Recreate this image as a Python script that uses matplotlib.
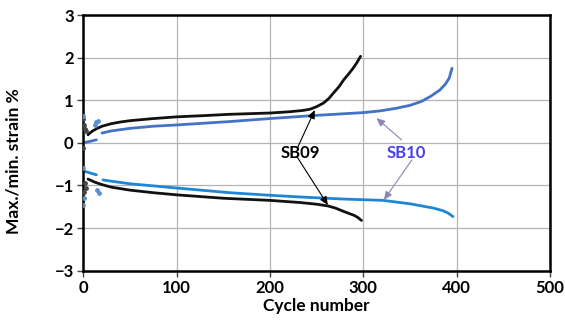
import matplotlib
matplotlib.use("Agg")
import matplotlib.pyplot as plt

plt.rcParams['font.family'] = ['Lato', 'DejaVu Sans']
plt.rcParams['font.weight'] = 'bold'

# SB09 maximum / minimum strain vs cycle
sb09_max_cycle = [5, 7, 10, 15, 20, 30, 40, 50, 75, 100, 130, 157, 200, 221, 235, 243,
                  250, 257, 263, 268, 274, 279, 284, 289, 293, 297]
sb09_max_val = [0.19, 0.23, 0.28, 0.34, 0.39, 0.45, 0.49, 0.52, 0.57, 0.61, 0.64, 0.67, 0.70,
                0.73, 0.76, 0.79, 0.85, 0.93, 1.04, 1.17, 1.32, 1.48, 1.61, 1.75, 1.88, 2.03]
sb09_min_cycle = [5, 8, 12, 20, 30, 50, 75, 100, 150, 200, 232, 250, 262, 270, 279, 285,
                  290, 294, 298]
sb09_min_val = [-0.85, -0.88, -0.92, -0.98, -1.04, -1.11, -1.17, -1.22, -1.30, -1.35, -1.40,
                -1.44, -1.48, -1.53, -1.61, -1.66, -1.70, -1.75, -1.82]

# SB10 maximum / minimum strain vs cycle
sb10_max_start_cycle = [0, 14]
sb10_max_start_val = [0.0, 0.07]
sb10_max_cycle = [20, 30, 50, 75, 100, 157, 200, 246, 300, 318, 335, 350, 362, 372, 382,
                  388, 392, 395]
sb10_max_val = [0.23, 0.28, 0.34, 0.39, 0.42, 0.50, 0.57, 0.64, 0.71, 0.75, 0.81, 0.88, 0.97,
                1.09, 1.24, 1.38, 1.52, 1.75]
sb10_min_start_cycle = [0, 14]
sb10_min_start_val = [-0.66, -0.75]
sb10_min_cycle = [21, 30, 50, 100, 157, 200, 232, 280, 321, 350, 365, 375, 385, 391, 396]
sb10_min_val = [-0.87, -0.90, -0.96, -1.06, -1.17, -1.23, -1.27, -1.32, -1.35, -1.43, -1.49,
                -1.53, -1.59, -1.65, -1.73]

# scattered early-cycle readings
sb09_pts_cycle = [0, 1, 2, 3, 0, 1, 2, 3]
sb09_pts_val = [0.55, 0.42, 0.33, 0.27, -0.12, -1.15, -0.95, -1.05]
sb10_pts_cycle = [0, 12, 14, 16, 0, 15, 17, 0, 1]
sb10_pts_val = [0.62, 0.42, 0.48, 0.52, -0.58, -1.10, -1.17, -1.45, -1.30]

x_ticks = [0, 100, 200, 300, 400, 500]
y_ticks = [-3, -2, -1, 0, 1, 2, 3]

c_black = '#111111'
c_max10 = '#4472C4'
c_min10 = '#1F86D6'
c_note = '#8A86B8'

fig = plt.figure(figsize=(5.65, 3.29), dpi=100)
ax = fig.add_axes([0.1475, 0.1772, 0.826, 0.7772])

kw = dict(lw=2.0, solid_capstyle='round', solid_joinstyle='round')
ax.plot(sb09_max_cycle, sb09_max_val, color=c_black, **kw)
ax.plot(sb09_min_cycle, sb09_min_val, color=c_black, **kw)
ax.plot(sb10_max_start_cycle, sb10_max_start_val, color=c_max10, **kw)
ax.plot(sb10_max_cycle, sb10_max_val, color=c_max10, **kw)
ax.plot(sb10_min_start_cycle, sb10_min_start_val, color=c_min10, **kw)
ax.plot(sb10_min_cycle, sb10_min_val, color=c_min10, **kw)
ax.scatter(sb09_pts_cycle, sb09_pts_val, s=6, color='#444444', zorder=3)
ax.scatter(sb10_pts_cycle, sb10_pts_val, s=6, color='#5b8fd0', zorder=3)

ax.set_xlim(0, 500)
ax.set_ylim(-3, 3)
ax.set_xticks(x_ticks)
ax.set_yticks(y_ticks)
ax.grid(True, color='#b4b4b4', lw=0.9)
ax.set_axisbelow(True)
for s in ax.spines.values():
    s.set_color('black')
    s.set_linewidth(1.8)
ax.tick_params(direction='out', length=4, width=1, color='#444444', labelsize=12, pad=3)
for lab in ax.get_xticklabels() + ax.get_yticklabels():
    lab.set_fontweight('bold')

ax.set_xlabel('Cycle number', fontsize=12.5, fontweight='bold', labelpad=1)
ax.set_ylabel('Max./min. strain %', fontsize=12.5, fontweight='bold')
ax.yaxis.set_label_coords(-0.133, 0.43)

# callouts
ax.text(232, -0.23, 'SB09', fontsize=12, fontweight='bold', color='black', ha='center', va='center')
ax.text(346, -0.23, 'SB10', fontsize=12, fontweight='bold', color='#4a3ff0', ha='center', va='center')

arrow09 = dict(arrowstyle='-|>,head_length=0.5,head_width=0.22', color='black', lw=0.8, shrinkA=0, shrinkB=0)
arrow10 = dict(arrowstyle='-|>,head_length=0.5,head_width=0.22', color=c_note, lw=0.8, shrinkA=0, shrinkB=0)
ax.annotate('', xy=(248, 0.77), xytext=(230, -0.09), arrowprops=arrow09)
ax.annotate('', xy=(262, -1.46), xytext=(229, -0.33), arrowprops=arrow09)
ax.annotate('', xy=(314, 0.58), xytext=(341, 0.07), arrowprops=arrow10)
ax.annotate('', xy=(322, -1.34), xytext=(352, -0.40), arrowprops=arrow10)

fig.savefig('out.png', dpi=100)
